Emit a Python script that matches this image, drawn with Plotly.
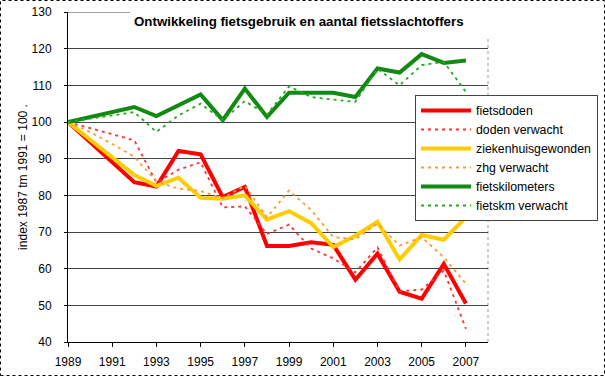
import plotly.graph_objects as go

years = list(range(1989, 2008))

fietsdoden = [100, 94.5, 89, 83.6, 82.4, 92.1, 91.2, 79.5, 82.3, 66.2, 66.2, 67.2, 66.5, 57.0, 64.1, 53.7, 51.8, 61.3, 50.5]
doden_verwacht = [100, 98.3, 96.7, 95.0, 83.5, 87.0, 89.0, 76.7, 77.0, 69.5, 72.0, 65.5, 62.8, 59.0, 65.8, 53.8, 54.3, 59.5, 43.6]
ziekenhuisgewonden = [100, 95.2, 90.3, 85.5, 82.6, 84.8, 79.3, 79.1, 80.0, 73.4, 75.7, 72.4, 65.9, 69.0, 72.8, 62.5, 69.2, 67.9, 74.0]
zhg_verwacht = [100, 97.3, 94.0, 90.5, 83.8, 81.8, 81.2, 79.2, 82.6, 74.0, 81.3, 76.0, 68.6, 68.0, 72.3, 66.3, 68.6, 63.1, 55.9]
fietskilometers = [100, 101.4, 102.7, 104.1, 101.6, 104.5, 107.5, 100.5, 109.1, 101.4, 108.0, 108.0, 108.0, 106.8, 114.6, 113.5, 118.5, 116.1, 116.8]
fietskm_verwacht = [100, 100.9, 101.8, 102.7, 97.3, 101.8, 105.0, 100.5, 105.7, 102.0, 109.7, 106.8, 106.1, 105.5, 114.5, 110.0, 115.5, 116.4, 108.2]

series = [
    ("fietsdoden", fietsdoden, "#FF0000", 4, "solid"),
    ("doden verwacht", doden_verwacht, "#FF3333", 1.8, "3px,4px"),
    ("ziekenhuisgewonden", ziekenhuisgewonden, "#FFCC00", 4, "solid"),
    ("zhg verwacht", zhg_verwacht, "#FF9933", 1.8, "3px,4px"),
    ("fietskilometers", fietskilometers, "#128A12", 4, "solid"),
    ("fietskm verwacht", fietskm_verwacht, "#22AA22", 1.8, "3px,4px"),
]

font_family = "Arial, Liberation Sans, sans-serif"

fig = go.Figure()
for name, vals, color, width, dash in series:
    fig.add_trace(go.Scatter(
        x=years, y=vals, name=name, mode="lines",
        line=dict(color=color, width=width, dash=dash),
    ))

W, H = 605, 376
ml, mr, mt, mb = 68, 117, 12, 34
pw = W - ml - mr
ph = H - mt - mb

fig.update_layout(
    width=W, height=H,
    margin=dict(l=ml, r=mr, t=mt, b=mb, pad=0, autoexpand=False),
    paper_bgcolor="white", plot_bgcolor="white",
    font=dict(family=font_family, size=12, color="black"),
    showlegend=True,
    legend=dict(
        x=(415 - ml) / pw, y=(H - mb - 95) / ph, xanchor="left", yanchor="top",
        bgcolor="white", bordercolor="#444444", borderwidth=1,
        font=dict(size=12.3, family=font_family),
        tracegroupgap=0, itemwidth=50,
        entrywidth=130, entrywidthmode="pixels",
    ),
    xaxis=dict(
        range=[1989, 2008], tickmode="array",
        tickvals=list(range(1989, 2008, 2)),
        ticktext=[str(y) for y in range(1989, 2008, 2)],
        showgrid=False, zeroline=False, automargin=False,
        showline=True, linecolor="black", linewidth=1,
        ticks="outside", ticklen=4, tickcolor="black",
        ticklabelstandoff=5,
        tickfont=dict(size=12),
    ),
    yaxis=dict(
        range=[40, 130], tickmode="array",
        tickvals=list(range(40, 131, 10)),
        showgrid=True, gridcolor="#444444", gridwidth=1,
        zeroline=False, automargin=False,
        showline=True, linecolor="black", linewidth=1,
        ticks="outside", ticklen=3, tickcolor="black",
        ticklabelstandoff=10,
        tickfont=dict(size=12),
        title=dict(text="index 1987 tm 1991 = 100 .", font=dict(size=12), standoff=1),
    ),
)

# top gridline (130) left of the title box
fig.add_shape(type="line", xref="paper", yref="y",
              x0=0, x1=(130 - ml) / pw, y0=130, y1=130,
              line=dict(color="#444444", width=1), layer="below")

# white box behind title covering top gridline
fig.add_shape(type="rect", xref="paper", yref="paper",
              x0=(130 - ml) / pw, x1=1.02, y0=(H - mb - 37) / ph, y1=1.05,
              fillcolor="white", line=dict(width=0), layer="above")

# dashed right border of the plot area
fig.add_shape(type="line", xref="paper", yref="paper",
              x0=1, x1=1, y0=0, y1=(H - mb - 37) / ph,
              line=dict(color="#999999", width=1, dash="dot"), layer="below")

# dotted frame around the whole figure
fig.add_shape(type="rect", xref="paper", yref="paper",
              x0=(-ml + 0.5) / pw, x1=(pw + mr - 0.5) / pw,
              y0=(-mb + 0.5) / ph, y1=(ph + mt - 0.5) / ph,
              line=dict(color="black", width=1, dash="dot"), fillcolor="rgba(0,0,0,0)")

fig.add_annotation(
    text="<b>Ontwikkeling fietsgebruik en aantal fietsslachtoffers</b>",
    xref="paper", yref="paper",
    x=(298.5 - ml) / pw, y=(H - mb - 22) / ph,
    xanchor="center", yanchor="middle", showarrow=False,
    font=dict(size=13.3, family=font_family, color="black"),
)

fig.write_html(
    "out.html",
    config={"displayModeBar": False},
    post_script="document.body.style.margin='0px';document.body.style.padding='0px';",
)
